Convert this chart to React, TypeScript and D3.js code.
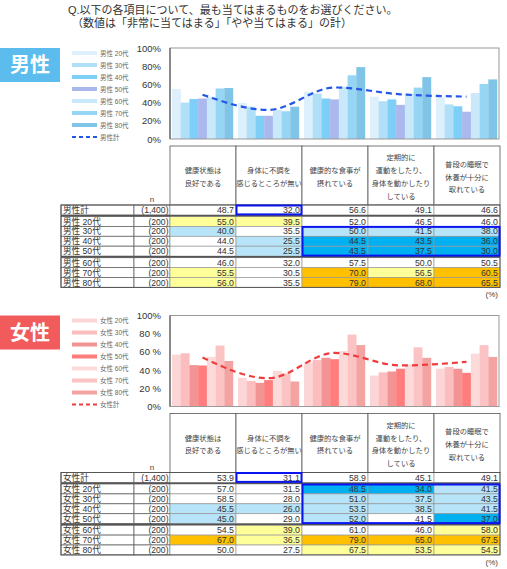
import * as d3 from "d3"

const items = ["健康状態", "不調無し", "食事", "運動", "睡眠"]
const headerLines = [
  ["健康状態は", "良好である"],
  ["身体に不調を", "感じるところが無い"],
  ["健康的な食事が", "摂れている"],
  ["定期的に", "運動をしたり、", "身体を動かしたり", "している"],
  ["普段の睡眠で", "休養が十分に", "取れている"],
]
const ages = ["20代", "30代", "40代", "50代", "60代", "70代", "80代"]
const nTotal = "(1,400)"
const nAge = "(200)"

const maleTotal = [48.7, 32.0, 56.6, 49.1, 46.6]
const maleAges = [
  [55.0, 39.5, 52.0, 46.5, 46.0],
  [40.0, 35.5, 50.0, 41.5, 38.0],
  [44.0, 25.5, 44.5, 43.5, 36.0],
  [44.5, 25.5, 43.5, 37.5, 30.0],
  [46.0, 32.0, 57.5, 50.0, 50.5],
  [55.5, 30.5, 70.0, 56.5, 60.5],
  [56.0, 35.5, 79.0, 68.0, 65.5],
]
// hi = 5pt以上高い, hi2 = 10pt以上高い, lo = 5pt以上低い, lo2 = 10pt以上低い
const maleMarks = [
  ["hi", "hi", "", "", ""],
  ["lo", "", "lo", "lo", "lo"],
  ["", "lo", "lo2", "lo2", "lo2"],
  ["", "lo", "lo2", "lo2", "lo2"],
  ["", "", "", "", ""],
  ["hi", "", "hi2", "hi", "hi2"],
  ["hi", "", "hi2", "hi2", "hi2"],
]

const femaleTotal = [53.9, 31.1, 58.9, 45.1, 49.1]
const femaleAges = [
  [57.0, 31.5, 48.5, 34.0, 41.5],
  [58.5, 28.0, 51.0, 37.5, 43.5],
  [45.5, 26.0, 53.5, 38.5, 41.5],
  [45.0, 29.0, 52.0, 41.5, 37.0],
  [54.5, 39.0, 61.0, 46.0, 58.0],
  [67.0, 36.5, 79.0, 65.0, 67.5],
  [50.0, 27.5, 67.5, 53.5, 54.5],
]
const femaleMarks = [
  ["", "", "lo2", "lo2", "lo"],
  ["", "", "lo", "lo", "lo"],
  ["lo", "lo", "lo", "lo", "lo"],
  ["lo", "", "lo", "", "lo2"],
  ["", "hi", "", "", "hi"],
  ["hi2", "hi", "hi2", "hi2", "hi2"],
  ["", "", "hi", "hi", "hi"],
]

const maleBoxes = [
  { r0: 0, r1: 0, c0: 1, c1: 1 },
  { r0: 2, r1: 4, c0: 2, c1: 4 },
]
const femaleBoxes = [
  { r0: 0, r1: 0, c0: 1, c1: 1 },
  { r0: 1, r1: 4, c0: 2, c1: 4 },
]

const tickValues = [0, 20, 40, 60, 80, 100]
const maleTicks = ["0%", "20%", "40%", "60%", "80%", "100%"]
const femaleTicks = ["0%", "20 %", "40 %", "60 %", "80 %", "100%"]

const maleColors = ["#DDF0FC", "#B0DFF8", "#7ECFF7", "#ABB8EE", "#C9E9FA", "#97D5F5", "#80C4E7"]
const femaleColors = ["#FCD6D6", "#FBBDBD", "#F29494", "#FF7D7D", "#FDDADA", "#FBC3C3", "#F4A3A3"]

const markFill: Record<string, string> = {
  hi: "#FFFF99",
  hi2: "#FFC000",
  lo: "#B7E4F8",
  lo2: "#00B0F0",
}

const JP = "'Noto Sans CJK JP', 'Noto Sans', sans-serif"
// latin font first keeps the line box compact; kanji fall back to Noto CJK
const TXT = "'Liberation Sans', 'Noto Sans CJK JP', sans-serif"

interface SectionProps {
  dy: number
  title: string
  titleFill: string
  prefix: string
  total: number[]
  byAge: number[][]
  marks: string[][]
  colors: string[]
  lineColor: string
  ticks: string[]
  boxes: { r0: number; r1: number; c0: number; c1: number }[]
}

function Section(p: SectionProps) {
  const { dy } = p
  const x0 = d3.scaleBand().domain(items).range([170, 499]).paddingInner(0.075).paddingOuter(0.03)
  const x1 = d3.scaleBand().domain(ages).range([0, x0.bandwidth()])
  const y = d3.scaleLinear().domain([0, 100]).range([139 + dy, 48 + dy])
  const col = d3.scaleBand().domain(items).range([170, 500])

  const line = d3.line<number>()
    .x((_, i) => x0(items[i])! + x0.bandwidth() / 2)
    .y(d => y(d))
    .curve(d3.curveMonotoneX)

  const rows = [
    { label: p.prefix + "計", n: nTotal, values: p.total, marks: ["", "", "", "", ""] },
    ...ages.map((a, i) => ({ label: p.prefix + " " + a, n: nAge, values: p.byAge[i], marks: p.marks[i] })),
  ]
  const rh = 9.9
  const rowTop = (i: number) => 205 + dy + i * rh + (i >= 1 ? 1.6 : 0) + (i >= 5 ? 1.6 : 0)

  const legend = [
    ...ages.map((a, i) => ({ label: p.prefix + " " + a, color: p.colors[i], dash: false })),
    { label: p.prefix + "計", color: p.lineColor, dash: true },
  ]

  return (
    <g>
      {/* label box */}
      <rect x={0} y={48 + dy} width={60} height={34} fill={p.titleFill} />
      <text x={30} y={72 + dy} textAnchor="middle" fill="#fff" fontSize={20} fontWeight="bold" fontFamily={JP}>
        {p.title}
      </text>

      {/* legend */}
      {legend.map((d, i) => (
        <g key={d.label}>
          <line
            x1={72} x2={97} y1={53 + dy + i * 12} y2={53 + dy + i * 12}
            stroke={d.color}
            strokeWidth={d.dash ? 2 : 4}
            strokeDasharray={d.dash ? "4,3" : undefined}
          />
          <text x={100} y={55.5 + dy + i * 12} fontSize={6.5} fill="#666" fontFamily={TXT}>{d.label}</text>
        </g>
      ))}

      {/* y ticks */}
      {tickValues.map((v, i) => (
        <text key={v} x={161} y={y(v) + 3.5} textAnchor="end" fontSize={9.5} fill="#333" fontFamily={TXT}>
          {p.ticks[i]}
        </text>
      ))}

      {/* bars */}
      {items.map((it, j) => (
        <g key={it} transform={`translate(${x0(it)},0)`}>
          {ages.map((a, i) => (
            <rect
              key={a}
              x={x1(a)}
              y={y(p.byAge[i][j])}
              width={x1.bandwidth() + 0.2}
              height={y(0) - y(p.byAge[i][j])}
              fill={p.colors[i]}
            />
          ))}
        </g>
      ))}

      {/* frame */}
      <rect x={170} y={48 + dy} width={329} height={91} fill="none" stroke="#999" strokeWidth={1} />
      <line x1={170} x2={170} y1={48 + dy} y2={139 + dy} stroke="#666" strokeWidth={1.3} />

      {/* total line */}
      <path d={line(p.total) || ""} fill="none" stroke={p.lineColor} strokeWidth={2.2} strokeDasharray="6,4" />

      {/* table header */}
      {items.map((it, j) => (
        <g key={it}>
          <rect x={col(it)} y={146 + dy} width={col.bandwidth()} height={59} fill="#fff" stroke="#555" strokeWidth={0.8} />
          {headerLines[j].map((t, k) => (
            <text
              key={k}
              x={col(it)! + col.bandwidth() / 2}
              y={176.5 + dy + (k - (headerLines[j].length - 1) / 2) * 12.8 + 3}
              textAnchor="middle"
              fontSize={7.3}
              fill="#444"
              fontFamily={TXT}
            >
              {t}
            </text>
          ))}
        </g>
      ))}
      <text x={152} y={202 + dy} textAnchor="middle" fontSize={8} fill="#444" fontFamily={TXT}>n</text>

      {/* table rows */}
      {rows.map((r, i) => {
        const top = rowTop(i)
        return (
          <g key={r.label}>
            <rect x={61} y={top} width={73} height={rh} fill="#fff" stroke="#666" strokeWidth={0.8} />
            <text x={63} y={top + 8} fontSize={8.6} fill="#333" fontFamily={TXT}>{r.label}</text>
            <rect x={134} y={top} width={36} height={rh} fill="#fff" stroke="#666" strokeWidth={0.8} />
            <text x={168.5} y={top + 8} textAnchor="end" fontSize={8.6} fill="#333" fontFamily={TXT}>{r.n}</text>
            {items.map((it, j) => (
              <g key={it}>
                <rect
                  x={col(it)}
                  y={top}
                  width={col.bandwidth()}
                  height={rh}
                  fill={markFill[r.marks[j]] || "#fff"}
                  stroke="#999"
                  strokeWidth={0.7}
                />
                <text
                  x={col(it)! + col.bandwidth() - 2}
                  y={top + 8}
                  textAnchor="end"
                  fontSize={8.8}
                  fill="#333"
                  fontFamily={TXT}
                >
                  {r.values[j].toFixed(1)}
                </text>
              </g>
            ))}
          </g>
        )
      })}
      {/* group separators */}
      <line x1={61} x2={500} y1={rowTop(1) - 0.8} y2={rowTop(1) - 0.8} stroke="#555" strokeWidth={1.6} />
      <line x1={61} x2={500} y1={rowTop(5) - 0.8} y2={rowTop(5) - 0.8} stroke="#555" strokeWidth={1.6} />
      <rect x={61} y={rowTop(0)} width={439} height={rowTop(7) + rh - rowTop(0)} fill="none" stroke="#555" strokeWidth={1} />

      {/* highlight boxes */}
      {p.boxes.map((b, k) => (
        <rect
          key={k}
          x={col(items[b.c0])! + 0.5}
          y={rowTop(b.r0) + 0.5}
          width={col(items[b.c1])! + col.bandwidth() - col(items[b.c0])! - 1}
          height={rowTop(b.r1) + rh - rowTop(b.r0) - 1}
          fill="none"
          stroke="#0A14F0"
          strokeWidth={2}
        />
      ))}

      <text x={498} y={297 + dy} textAnchor="end" fontSize={8} fill="#444" fontFamily={TXT}>(%)</text>
    </g>
  )
}

export default function App() {
  return (
    <svg width={507} height={569} style={{ position: "absolute", left: 0, top: 0, background: "#fff" }}>
      <text x={68} y={14} fontSize={11} fill="#333" fontFamily={TXT}>
        Q.以下の各項目について、最も当てはまるものをお選びください。
      </text>
      <text x={72} y={27} fontSize={11} fill="#333" fontFamily={TXT}>
        （数値は「非常に当てはまる」「やや当てはまる」の計）
      </text>
      <Section
        dy={0}
        title="男性"
        titleFill="#5CBCEE"
        prefix="男性"
        total={maleTotal}
        byAge={maleAges}
        marks={maleMarks}
        colors={maleColors}
        lineColor="#2457E8"
        ticks={maleTicks}
        boxes={maleBoxes}
      />
      <Section
        dy={267.5}
        title="女性"
        titleFill="#F25B5B"
        prefix="女性"
        total={femaleTotal}
        byAge={femaleAges}
        marks={femaleMarks}
        colors={femaleColors}
        lineColor="#F03C3C"
        ticks={femaleTicks}
        boxes={femaleBoxes}
      />
    </svg>
  )
}
